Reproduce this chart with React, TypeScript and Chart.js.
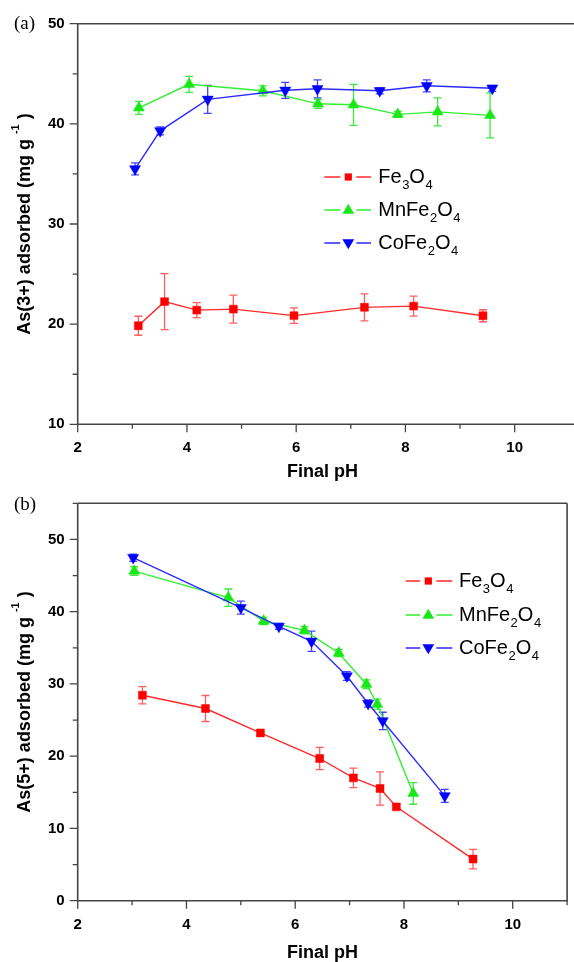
import React, { useEffect, useRef } from "react";
import { Chart, registerables } from "chart.js";
Chart.register(...registerables);

// ---------- Data: panel (a) As(3+) ----------
const A_FE3O4_PH = [3.11, 3.59, 4.18, 4.85, 5.96, 7.25, 8.15, 9.42];
const A_FE3O4_Q = [19.84, 22.25, 21.4, 21.5, 20.85, 21.68, 21.8, 20.84];
const A_FE3O4_ERR = [0.95, 2.8, 0.75, 1.4, 0.77, 1.35, 1.0, 0.6];

const A_MNFE2O4_PH = [3.12, 4.04, 5.39, 6.4, 7.05, 7.86, 8.59, 9.55];
const A_MNFE2O4_Q = [41.6, 43.95, 43.3, 42.0, 41.9, 40.95, 41.2, 40.85];
const A_MNFE2O4_ERR = [0.65, 0.8, 0.5, 0.45, 2.05, 0.3, 1.4, 2.25];

const A_COFE2O4_PH = [3.05, 3.51, 4.38, 5.8, 6.39, 7.53, 8.39, 9.59];
const A_COFE2O4_Q = [35.5, 39.3, 42.45, 43.35, 43.5, 43.3, 43.8, 43.55];
const A_COFE2O4_ERR = [0.6, 0.4, 1.4, 0.8, 0.9, 0.3, 0.6, 0.3];

// ---------- Data: panel (b) As(5+) ----------
const B_FE3O4_PH = [3.19, 4.35, 5.36, 6.45, 7.07, 7.56, 7.86, 9.27];
const B_FE3O4_Q = [28.44, 26.6, 23.22, 19.68, 17.0, 15.54, 12.99, 5.76];
const B_FE3O4_ERR = [1.2, 1.8, 0.3, 1.55, 1.35, 2.3, 0.3, 1.35];

const B_MNFE2O4_PH = [3.04, 4.77, 5.42, 6.17, 6.8, 7.31, 7.51, 8.17];
const B_MNFE2O4_Q = [45.62, 41.94, 38.71, 37.42, 34.28, 29.96, 27.19, 14.85];
const B_MNFE2O4_ERR = [0.6, 1.2, 0.5, 0.5, 0.5, 0.6, 0.7, 1.5];

const B_COFE2O4_PH = [3.02, 5.0, 5.7, 6.3, 6.95, 7.34, 7.61, 8.75];
const B_COFE2O4_Q = [47.47, 40.56, 37.97, 35.9, 31.1, 27.29, 24.88, 14.51];
const B_COFE2O4_ERR = [0.5, 0.9, 0.4, 1.4, 0.6, 0.5, 1.2, 0.9];

// ---------- Labels ----------
const SERIES_LABELS = ["Fe3O4", "MnFe2O4", "CoFe2O4"];
const X_TICKS = [2, 4, 6, 8, 10];
const A_Y_TICKS = [10, 20, 30, 40, 50];
const B_Y_TICKS = [0, 10, 20, 30, 40, 50];
const X_TITLE = "Final pH";
const A_Y_TITLE = "As(3+) adsorbed (mg g";
const B_Y_TITLE = "As(5+) adsorbed (mg g";
const PANEL_LABELS = ["(a)", "(b)"];

const SANS = '"Liberation Sans", Arial, sans-serif';
const SERIF = '"Liberation Serif", "Times New Roman", serif';

type SeriesStyle = {
  marker: string;
  line: string;
  err: string;
  shape: "square" | "up" | "down";
  radius: number;
  rotation: number;
  pointStyle: string;
};

const STYLES: SeriesStyle[] = [
  { marker: "#ff0000", line: "#ff2b2b", err: "rgba(255,40,40,0.75)", shape: "square", radius: 5.6, rotation: 0, pointStyle: "rect" },
  { marker: "#18e818", line: "#33ee33", err: "rgba(30,225,30,0.85)", shape: "up", radius: 6.4, rotation: 0, pointStyle: "triangle" },
  { marker: "#0000ff", line: "#2b2bff", err: "rgba(20,20,255,0.8)", shape: "down", radius: 6.4, rotation: 180, pointStyle: "triangle" },
];

type PanelCfg = {
  xs: number[][];
  ys: number[][];
  errs: number[][];
  yMin: number;
  yMax: number;
  yTicks: number[];
  xMax: number;
  padTop: number;
  padRight: number;
  xAxisH: number;
  yTitle: string;
  panelLabel: string;
  panelLabelY: number;
  rightBorder: boolean;
  xTitleOffset: number;
  legend: { lineL: number; lineR: number; marker: number; text: number; rows: number[] };
};

function drawMarker(ctx: CanvasRenderingContext2D, shape: string, x: number, y: number, s: number) {
  ctx.beginPath();
  if (shape === "square") {
    ctx.rect(x - s * 0.72, y - s * 0.72, s * 1.44, s * 1.44);
  } else if (shape === "up") {
    ctx.moveTo(x, y - s);
    ctx.lineTo(x + s * 0.95, y + s * 0.62);
    ctx.lineTo(x - s * 0.95, y + s * 0.62);
    ctx.closePath();
  } else {
    ctx.moveTo(x, y + s);
    ctx.lineTo(x + s * 0.95, y - s * 0.62);
    ctx.lineTo(x - s * 0.95, y - s * 0.62);
    ctx.closePath();
  }
  ctx.fill();
}

function drawChem(ctx: CanvasRenderingContext2D, label: string, x: number, y: number) {
  let cx = x;
  const parts = label.match(/(\d+|\D+)/g) || [];
  for (const p of parts) {
    const sub = /^\d+$/.test(p);
    ctx.font = sub ? `13px ${SANS}` : `20px ${SANS}`;
    ctx.textBaseline = "middle";
    ctx.textAlign = "left";
    ctx.fillText(p, cx, sub ? y + 8 : y);
    cx += ctx.measureText(p).width + (sub ? 0 : 0.5);
  }
}

function makePanel(canvas: HTMLCanvasElement, p: PanelCfg) {
  const datasets = p.xs.map((xs, si) => ({
    label: SERIES_LABELS[si],
    data: xs.map((x, i) => ({ x, y: p.ys[si][i] })),
    borderColor: STYLES[si].line,
    backgroundColor: STYLES[si].marker,
    pointBackgroundColor: STYLES[si].marker,
    pointBorderColor: STYLES[si].marker,
    pointBorderWidth: 0.5,
    pointStyle: STYLES[si].pointStyle,
    pointRotation: STYLES[si].rotation,
    pointRadius: STYLES[si].radius,
    borderWidth: 1.4,
    tension: 0,
    fill: false,
    order: 2 - si,
  }));

  const overlay = {
    id: "overlay",
    beforeDatasetsDraw(chart: any) {
      const ctx = chart.ctx as CanvasRenderingContext2D;
      const ys = chart.scales.y;
      ctx.save();
      p.xs.forEach((xs, si) => {
        const meta = chart.getDatasetMeta(si);
        ctx.strokeStyle = STYLES[si].err;
        ctx.lineWidth = 1.3;
        xs.forEach((_, i) => {
          const pt = meta.data[i];
          const v = p.ys[si][i];
          const e = p.errs[si][i];
          const yt = ys.getPixelForValue(v + e);
          const yb = ys.getPixelForValue(v - e);
          ctx.beginPath();
          ctx.moveTo(pt.x, yt);
          ctx.lineTo(pt.x, yb);
          ctx.moveTo(pt.x - 4, yt);
          ctx.lineTo(pt.x + 4, yt);
          ctx.moveTo(pt.x - 4, yb);
          ctx.lineTo(pt.x + 4, yb);
          ctx.stroke();
        });
      });
      ctx.restore();
    },
    afterDraw(chart: any) {
      const ctx = chart.ctx as CanvasRenderingContext2D;
      const a = chart.chartArea;
      const xs = chart.scales.x;
      const ys = chart.scales.y;
      ctx.save();
      ctx.strokeStyle = "#444";
      ctx.lineWidth = 1.6;
      ctx.beginPath();
      ctx.moveTo(a.left, a.top);
      ctx.lineTo(a.left, a.bottom);
      ctx.lineTo(p.rightBorder ? a.right : chart.width, a.bottom);
      if (p.rightBorder) ctx.lineTo(a.right, a.top);
      ctx.moveTo(p.rightBorder ? a.right : chart.width, a.top);
      ctx.lineTo(a.left, a.top);
      ctx.stroke();
      // ticks
      ctx.lineWidth = 1.3;
      ctx.beginPath();
      for (let v = 2; v <= p.xMax + 1e-6; v += 1) {
        const px = xs.getPixelForValue(v);
        const len = v % 2 === 0 ? 8 : 4.5;
        ctx.moveTo(px, a.bottom);
        ctx.lineTo(px, a.bottom + len);
      }
      for (let v = p.yMin; v <= p.yMax + 1e-6; v += 5) {
        const py = ys.getPixelForValue(v);
        const len = v % 10 === 0 ? 8 : 5;
        ctx.moveTo(a.left, py);
        ctx.lineTo(a.left - len, py);
      }
      ctx.stroke();

      ctx.fillStyle = "#000";
      // x title
      ctx.font = `bold 18px ${SANS}`;
      ctx.textAlign = "center";
      ctx.textBaseline = "middle";
      ctx.fillText(X_TITLE, (a.left + a.right) / 2, a.bottom + p.xTitleOffset);

      // y title with superscript
      ctx.save();
      ctx.translate(25, (a.top + a.bottom) / 2);
      ctx.rotate(-Math.PI / 2);
      const mainFont = `bold 18px ${SANS}`;
      const supFont = `bold 11px ${SANS}`;
      ctx.font = mainFont;
      const w1 = ctx.measureText(p.yTitle + " ").width;
      const w3 = ctx.measureText(" )").width;
      ctx.font = supFont;
      const w2 = ctx.measureText("-1").width;
      let cx = -(w1 + w2 + w3) / 2;
      ctx.textAlign = "left";
      ctx.textBaseline = "middle";
      ctx.font = mainFont;
      ctx.fillText(p.yTitle + " ", cx, 0);
      cx += w1;
      ctx.font = supFont;
      ctx.fillText("-1", cx, -9);
      cx += w2;
      ctx.font = mainFont;
      ctx.fillText(" )", cx, 0);
      ctx.restore();

      // panel label
      ctx.font = `19px ${SERIF}`;
      ctx.textAlign = "left";
      ctx.textBaseline = "middle";
      ctx.fillText(p.panelLabel, 14, p.panelLabelY);

      // legend
      const L = p.legend;
      SERIES_LABELS.forEach((lab, si) => {
        const y = L.rows[si];
        ctx.strokeStyle = STYLES[si].line;
        ctx.lineWidth = 1.3;
        ctx.beginPath();
        ctx.moveTo(L.lineL, y);
        ctx.lineTo(L.marker - 8, y);
        ctx.moveTo(L.marker + 8, y);
        ctx.lineTo(L.lineR, y);
        ctx.stroke();
        ctx.fillStyle = STYLES[si].marker;
        drawMarker(ctx, STYLES[si].shape, L.marker, y, si === 0 ? 5 : 6.2);
        ctx.fillStyle = "#000";
        drawChem(ctx, lab, L.text, y);
      });
      ctx.restore();
    },
  };

  const tickFont = { family: SANS, size: 15, weight: "bold" as const };

  return new Chart(canvas, {
    type: "line",
    data: { datasets: datasets as any },
    options: {
      responsive: false,
      maintainAspectRatio: false,
      animation: false,
      layout: { padding: { top: p.padTop, right: p.padRight, left: 0, bottom: 0 } },
      plugins: { legend: { display: false }, tooltip: { enabled: false } },
      scales: {
        x: {
          type: "linear",
          min: 2,
          max: p.xMax,
          grid: { display: false, drawTicks: false },
          border: { display: false },
          ticks: { stepSize: 2, padding: 15, font: tickFont, color: "#000", maxRotation: 0 },
          afterBuildTicks: (s: any) => {
            s.ticks = X_TICKS.map((v) => ({ value: v }));
          },
          afterFit: (s: any) => {
            s.height = p.xAxisH;
          },
        },
        y: {
          type: "linear",
          min: p.yMin,
          max: p.yMax,
          grid: { display: false, drawTicks: false },
          border: { display: false },
          ticks: { stepSize: 10, padding: 13, font: tickFont, color: "#000" },
          afterBuildTicks: (s: any) => {
            s.ticks = p.yTicks.map((v) => ({ value: v }));
          },
          afterFit: (s: any) => {
            s.width = 77.7;
          },
        },
      },
    } as any,
    plugins: [overlay],
  });
}

const PANEL_A: PanelCfg = {
  xs: [A_FE3O4_PH, A_MNFE2O4_PH, A_COFE2O4_PH],
  ys: [A_FE3O4_Q, A_MNFE2O4_Q, A_COFE2O4_Q],
  errs: [A_FE3O4_ERR, A_MNFE2O4_ERR, A_COFE2O4_ERR],
  yMin: 10,
  yMax: 50,
  yTicks: A_Y_TICKS,
  xMax: 10.96,
  padTop: 23.7,
  padRight: 0,
  xAxisH: 56.7,
  yTitle: A_Y_TITLE,
  panelLabel: PANEL_LABELS[0],
  panelLabelY: 24,
  rightBorder: false,
  xTitleOffset: 47.5,
  legend: { lineL: 324.3, lineR: 371, marker: 348.3, text: 378.3, rows: [177, 210, 243] },
};

const PANEL_B: PanelCfg = {
  xs: [B_FE3O4_PH, B_MNFE2O4_PH, B_COFE2O4_PH],
  ys: [B_FE3O4_Q, B_MNFE2O4_Q, B_COFE2O4_Q],
  errs: [B_FE3O4_ERR, B_MNFE2O4_ERR, B_COFE2O4_ERR],
  yMin: 0,
  yMax: 55,
  yTicks: B_Y_TICKS,
  xMax: 11,
  padTop: 22.3,
  padRight: 1.3,
  xAxisH: 61.3,
  yTitle: B_Y_TITLE,
  panelLabel: PANEL_LABELS[1],
  panelLabelY: 24,
  rightBorder: true,
  xTitleOffset: 52.6,
  legend: { lineL: 405.7, lineR: 452.3, marker: 428.3, text: 459, rows: [100, 134, 167] },
};

export default function App() {
  const refA = useRef<HTMLCanvasElement | null>(null);
  const refB = useRef<HTMLCanvasElement | null>(null);
  useEffect(() => {
    const ca = makePanel(refA.current!, PANEL_A);
    const cb = makePanel(refB.current!, PANEL_B);
    return () => {
      ca.destroy();
      cb.destroy();
    };
  }, []);
  return (
    <div style={{ position: "absolute", left: 0, top: 0, width: 574, height: 962, background: "#fff" }}>
      <canvas ref={refA} width={574} height={481} style={{ position: "absolute", left: 0, top: 0, display: "block" }} />
      <canvas ref={refB} width={574} height={481} style={{ position: "absolute", left: 0, top: 481, display: "block" }} />
    </div>
  );
}
